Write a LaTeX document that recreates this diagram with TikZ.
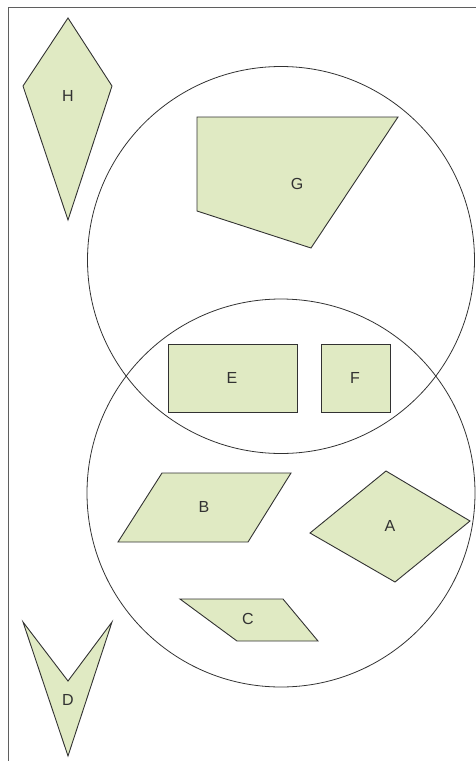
\documentclass[tikz,border=0pt]{standalone}
\usepackage{fontspec}
\setmainfont{Liberation Sans}
\usepackage{xcolor}
\usepackage{tikz}
\usetikzlibrary{calc}
\definecolor{shapefill}{RGB}{224,234,195}
\definecolor{shapeline}{RGB}{50,50,50}
\definecolor{framegray}{RGB}{95,95,95}

\tikzset{
  piece/.style={fill=shapefill,draw=shapeline,line width=0.9pt,line join=miter},
  setline/.style={draw=shapeline,line width=0.8pt},
  tag/.style={font=\fontsize{16}{18}\selectfont,text=shapeline,inner sep=0pt}
}

\begin{document}
\begin{tikzpicture}[x=1pt,y=-1pt]
\useasboundingbox (0,0) rectangle (476,761);
% frame
\draw[framegray,line width=1.4pt] (8.5,761) -- (8.5,7.5) -- (476,7.5);
% the two sets
\draw[setline] (281,260) circle (193.5);
\draw[setline] (281,493) circle (194);
% pieces
\draw[piece] (68,18) -- (23,86) -- (68,220) -- (112,86) -- cycle;
\node[tag] (h) at (68,96) {H};
\draw[piece] (197,117) -- (398,117) -- (311,248) -- (197,211) -- cycle;
\node[tag] (g) at (297,184) {G};
\draw[piece] (168,344) rectangle (297,412);
\node[tag] (e) at (232,378) {E};
\draw[piece] (321,344) rectangle (390,412);
\node[tag] (f) at (355,378) {F};
\draw[piece] (162,473) -- (291,473) -- (248,542) -- (118,542) -- cycle;
\node[tag] (b) at (204,507) {B};
\draw[piece] (386,471) -- (470,521) -- (395,582) -- (310,533) -- cycle;
\node[tag] (a) at (390,526) {A};
\draw[piece] (180,599) -- (283,599) -- (318,641) -- (237,641) -- cycle;
\node[tag] (c) at (248,619) {C};
\draw[piece] (23,622) -- (68,681) -- (112,622) -- (68,756) -- cycle;
\node[tag] (d) at (68,700) {D};
\end{tikzpicture}
\end{document}
